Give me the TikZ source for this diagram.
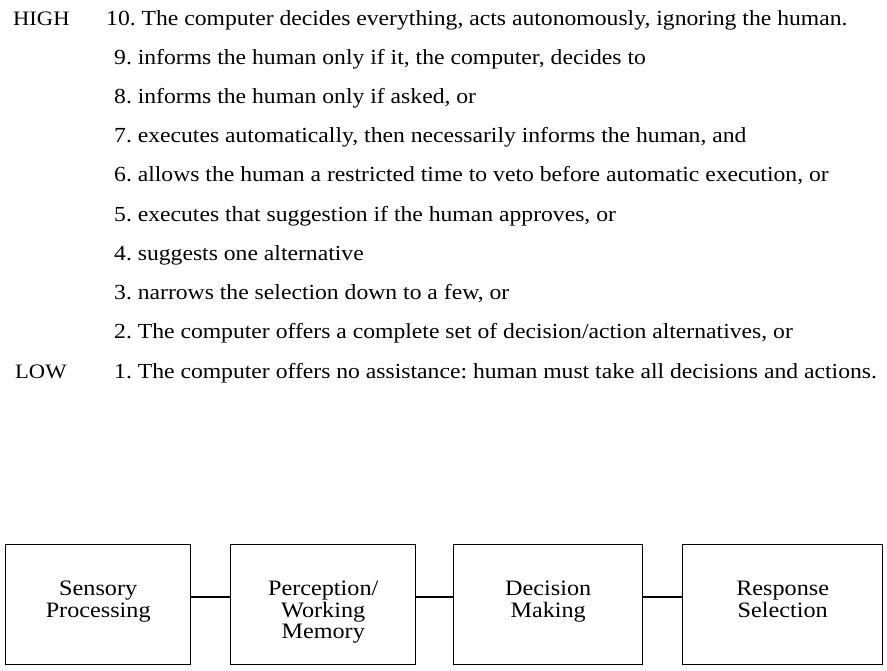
\documentclass[tikz,border=0pt]{standalone}
\usepackage{fontspec}
\setmainfont{Liberation Serif}[FakeStretch=1.1]
\begin{document}
\frenchspacing
\begin{tikzpicture}[x=1pt,y=-1pt,
  lvl/.style={anchor=base west,inner sep=0pt,font=\fontsize{21.5}{26}\selectfont},
  side/.style={anchor=base west,inner sep=0pt,font=\fontsize{20.5}{26}\selectfont},
  stage/.style={draw,line width=1.4pt,minimum width=185pt,minimum height=120pt,inner sep=0pt,anchor=north west},
  stagetxt/.style={anchor=north,align=center,inner sep=0pt,font=\fontsize{22}{21.5}\selectfont},
  link/.style={line width=1.4pt}]
\useasboundingbox (0,0) rectangle (887,670);
\node[side] (high) at (13,25) {HIGH};
\node[side] (low) at (15,378) {LOW};
\node[lvl] (l10) at (106,25) {10. The computer decides everything, acts autonomously, ignoring the human.};
\node[lvl] (l9) at (114,64.2) {9. informs the human only if it, the computer, decides to};
\node[lvl] (l8) at (114,103.4) {8. informs the human only if asked, or};
\node[lvl] (l7) at (114,142.6) {7. executes automatically, then necessarily informs the human, and};
\node[lvl] (l6) at (114,181.8) {6. allows the human a restricted time to veto before automatic execution, or};
\node[lvl] (l5) at (114,221) {5. executes that suggestion if the human approves, or};
\node[lvl] (l4) at (114,260.2) {4. suggests one alternative};
\node[lvl] (l3) at (114,299.4) {3. narrows the selection down to a few, or};
\node[lvl] (l2) at (114,338.6) {2. The computer offers a complete set of decision/action alternatives, or};
\node[lvl] (l1) at (114,378) {1. The computer offers no assistance: human must take all decisions and actions.};
\node[stage] (b1) at (5,544) {};
\node[stage] (b2) at (230,544) {};
\node[stage,minimum width=189pt] (b3) at (453,544) {};
\node[stage,minimum width=200pt] (b4) at (682,544) {};
\node[stagetxt] (t1) at ([yshift=-37pt]b1.north) {Sensory\\Processing};
\node[stagetxt] (t2) at ([yshift=-37pt]b2.north) {Perception/\\Working\\Memory};
\node[stagetxt] (t3) at ([yshift=-37pt]b3.north) {Decision\\Making};
\node[stagetxt] (t4) at ([yshift=-37pt]b4.north) {Response\\Selection};
\draw[link] (b1.east |- 0,597) -- (b2.west |- 0,597);
\draw[link] (b2.east |- 0,597) -- (b3.west |- 0,597);
\draw[link] (b3.east |- 0,597) -- (b4.west |- 0,597);
\end{tikzpicture}
\end{document}
